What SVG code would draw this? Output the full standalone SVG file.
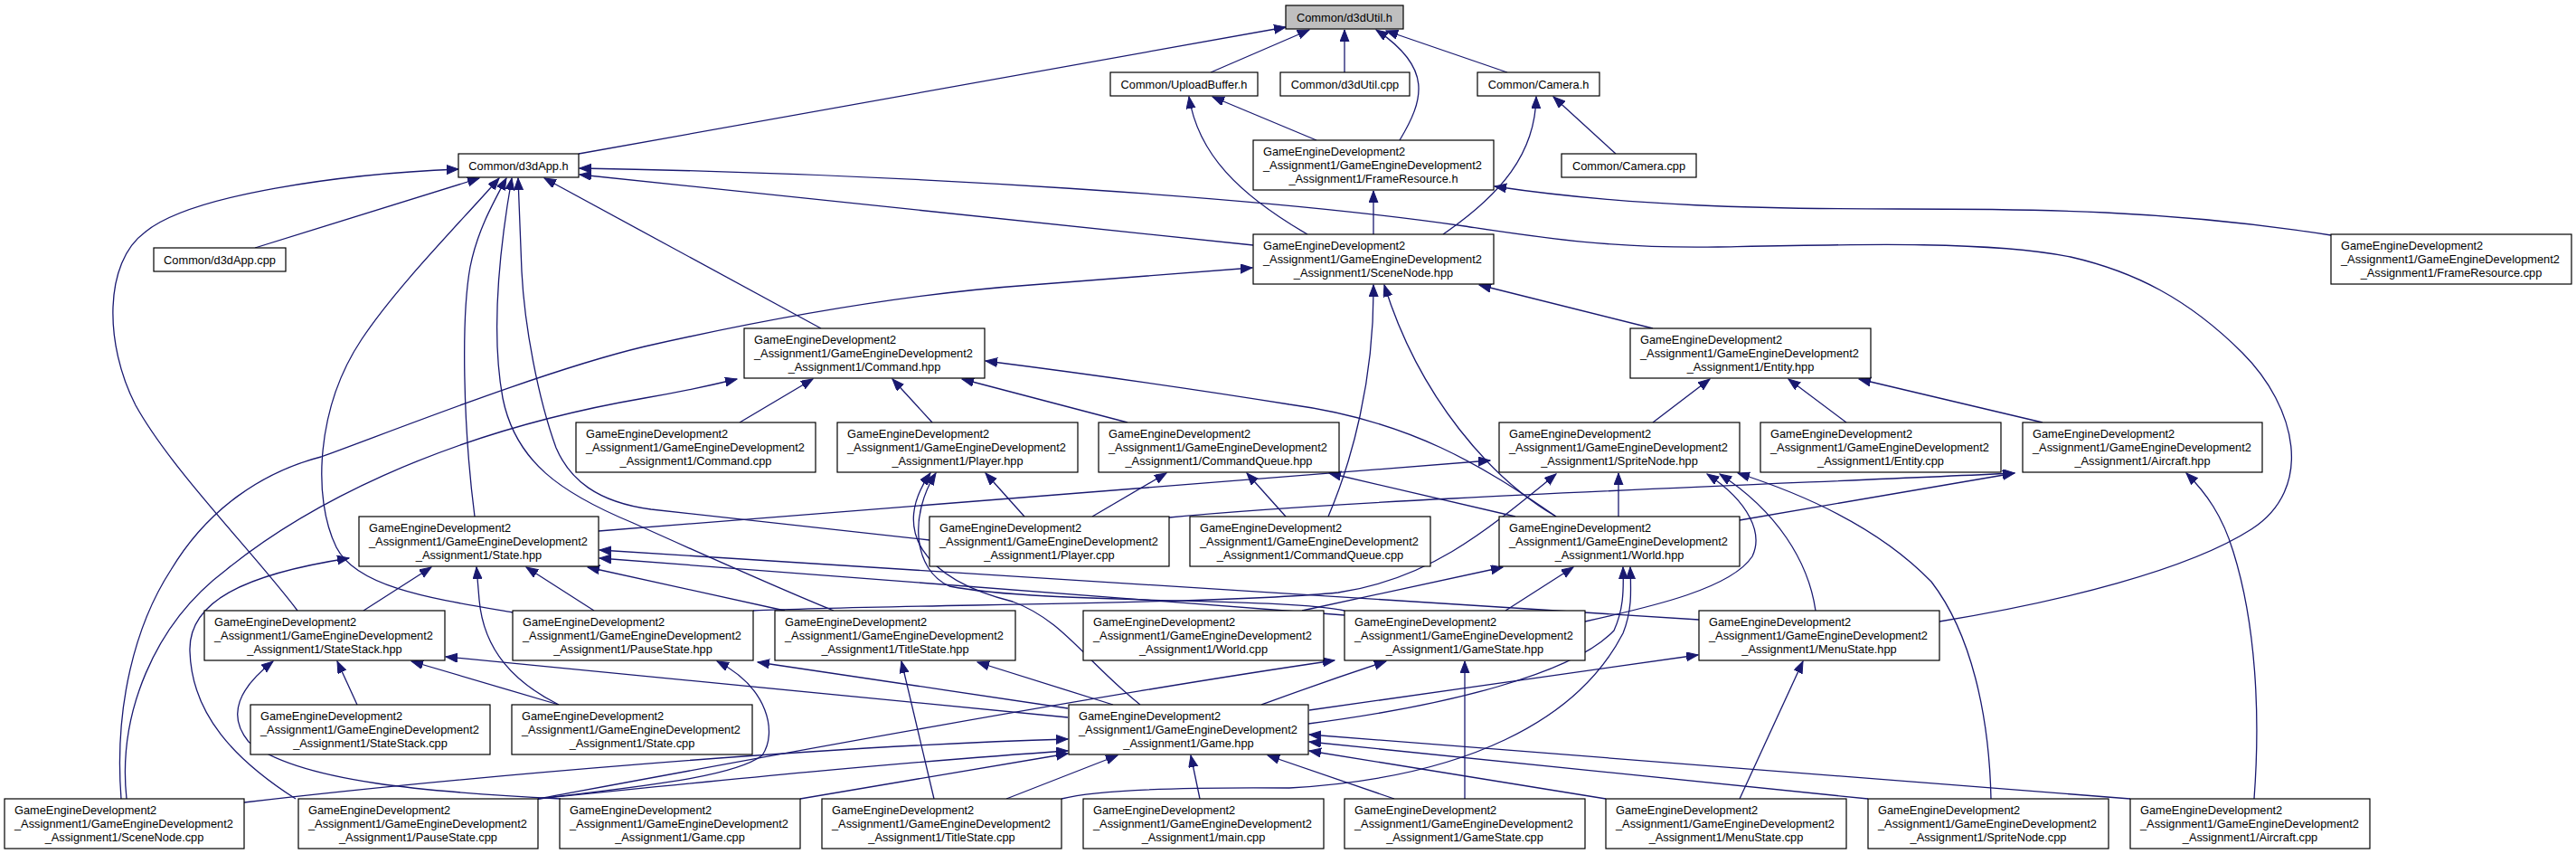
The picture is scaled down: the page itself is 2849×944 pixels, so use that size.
<svg xmlns="http://www.w3.org/2000/svg" width="2849" height="944" viewBox="0 0 2849 944">
<style>
.n rect{fill:#fff;stroke:#000;stroke-width:1.2}
.n.root rect{fill:#bfbfbf}
text{font-family:"Liberation Sans",Arial,Helvetica,sans-serif;font-size:12.8px;fill:#000}
.c{text-anchor:middle}
#edges path{fill:none;stroke:#191970;stroke-width:1.3;marker-end:url(#a)}
</style>
<defs>
<marker id="a" markerUnits="userSpaceOnUse" markerWidth="14" markerHeight="12" refX="13" refY="5" orient="auto">
<path d="M0,0 L13,5 L0,10 z" fill="#191970" stroke="#191970" stroke-width="1"/>
</marker>
</defs>
<rect width="2849" height="944" fill="#fff"/>
<g id="edges">
<path d="M640,170 L1422,30"/>
<path d="M1339,80 L1448,33"/>
<path d="M1487,80 L1487,33"/>
<path d="M1548,155 C1575,110 1585,75 1522,33"/>
<path d="M1667,80 L1533,34"/>
<path d="M1787,170 L1718,107"/>
<path d="M1596,259 C1660,215 1698,170 1699,107"/>
<path d="M1456,155 L1341,107"/>
<path d="M1446,259 C1370,215 1325,170 1315,107"/>
<path d="M1519,259 L1519,211"/>
<path d="M2578,260 C2400,232 2250,231 2100,231 C1950,231 1800,228 1653,206"/>
<path d="M282,274 L530,197"/>
<path d="M1386,271 L641,193"/>
<path d="M908,363 L602,197"/>
<path d="M2145,687 C2280,665 2420,630 2490,585 C2560,540 2540,450 2480,390 C2420,330 2360,300 2290,284 C2200,266 2050,270 1900,273 C1780,275 1700,262 1620,250 C1400,218 1000,192 641,186"/>
<path d="M329,675 C280,610 190,520 150,448 C115,380 115,290 160,257 C210,215 380,192 507,187"/>
<path d="M567,677 C480,662 395,650 372,605 C345,550 350,450 400,375 C440,315 510,245 552,197"/>
<path d="M525,571 C512,470 510,350 520,295 C528,255 545,225 560,197"/>
<path d="M922,675 C860,650 760,605 700,578 C620,545 570,510 556,440 C545,380 548,300 566,197"/>
<path d="M1028,597 L720,563 C660,555 630,530 615,495 C595,440 580,360 577,300 L573,197"/>
<path d="M818,467 L899,419"/>
<path d="M1031,467 L987,419"/>
<path d="M1247,467 L1064,419"/>
<path d="M1721,571 C1640,515 1560,465 1426,447 C1320,430 1200,413 1090,399"/>
<path d="M140,883 C130,790 170,690 250,630 C330,565 480,480 713,440 C760,432 790,425 815,419"/>
<path d="M134,883 C126,780 150,690 189,630 C230,562 290,522 355,505 C430,478 600,410 713,383 C850,352 1000,325 1140,315 L1385,296"/>
<path d="M1469,571 C1495,510 1520,420 1519,315"/>
<path d="M1721,571 C1650,530 1570,440 1531,315"/>
<path d="M1828,363 L1636,315"/>
<path d="M1828,467 L1891,419"/>
<path d="M2042,467 L1978,419"/>
<path d="M2259,467 L2056,419"/>
<path d="M1133,571 L1090,523"/>
<path d="M1487,675 C1420,660 1150,668 1050,648 C1010,630 1005,570 1035,523"/>
<path d="M1261,779 C1200,730 1175,685 1120,665 C1020,640 985,585 1029,523"/>
<path d="M1208,571 L1290,523"/>
<path d="M1422,571 L1379,523"/>
<path d="M1676,571 L1470,523"/>
<path d="M662,587 L1648,509"/>
<path d="M1790,571 L1790,523"/>
<path d="M833,675 C1000,668 1350,668 1480,655 C1580,640 1640,590 1721,524"/>
<path d="M1753,687 C1830,670 1915,650 1938,615 C1950,590 1935,555 1888,524"/>
<path d="M2008,675 C2000,620 1965,565 1902,524"/>
<path d="M2202,883 C2200,790 2180,700 2136,643 C2080,585 2000,548 1922,523"/>
<path d="M1293,572 C1500,552 1900,538 2228,523"/>
<path d="M1924,575 L2228,523"/>
<path d="M2493,883 C2500,790 2495,690 2470,610 C2458,570 2440,545 2418,523"/>
<path d="M402,675 L477,627"/>
<path d="M618,779 C570,755 535,720 530,663 L527,627"/>
<path d="M657,675 L582,627"/>
<path d="M868,675 L650,627"/>
<path d="M1487,680 L663,617"/>
<path d="M1879,685 L663,608"/>
<path d="M327,883 C260,840 212,790 210,720 C208,665 270,635 386,617"/>
<path d="M395,779 L373,731"/>
<path d="M618,779 L455,731"/>
<path d="M620,883 C480,876 330,865 275,820 C250,790 265,760 302,731"/>
<path d="M1181,793 L493,726"/>
<path d="M1181,783 L838,732"/>
<path d="M595,883 C700,870 810,860 843,835 C860,810 850,760 793,731"/>
<path d="M1231,779 L1081,732"/>
<path d="M1033,883 L997,731"/>
<path d="M1395,779 C1420,770 1460,755 1533,731"/>
<path d="M595,883 C800,845 1200,770 1476,730"/>
<path d="M1620,883 L1620,731"/>
<path d="M1448,785 L1878,724"/>
<path d="M1924,883 L1994,731"/>
<path d="M1440,675 L1662,627"/>
<path d="M1665,675 L1740,627"/>
<path d="M1447,800 C1600,780 1740,745 1785,697 C1795,675 1796,655 1795,627"/>
<path d="M1174,883 C1213,873 1300,870 1426,871 C1620,860 1745,797 1795,700 C1805,675 1804,655 1803,627"/>
<path d="M270,887 C500,860 900,825 1181,817"/>
<path d="M595,883 C800,862 1000,842 1181,830"/>
<path d="M885,883 L1181,833"/>
<path d="M1113,883 L1236,835"/>
<path d="M1327,883 L1317,835"/>
<path d="M1542,883 L1402,835"/>
<path d="M1776,883 L1448,830"/>
<path d="M2066,883 L1448,820"/>
<path d="M2356,883 L1448,812"/>
</g>
<g id="n_d3dUtil_h" class="n root"><rect x="1422" y="6" width="130" height="26"/><text class="c" x="1487" y="23.5">Common/d3dUtil.h</text></g>
<g id="n_d3dApp_h" class="n"><rect x="507" y="170" width="133" height="26"/><text class="c" x="573.5" y="187.5">Common/d3dApp.h</text></g>
<g id="n_UploadBuffer_h" class="n"><rect x="1228" y="80" width="163" height="26"/><text class="c" x="1309.5" y="97.5">Common/UploadBuffer.h</text></g>
<g id="n_d3dUtil_cpp" class="n"><rect x="1416" y="80" width="143" height="26"/><text class="c" x="1487.5" y="97.5">Common/d3dUtil.cpp</text></g>
<g id="n_Camera_h" class="n"><rect x="1634" y="80" width="135" height="26"/><text class="c" x="1701.5" y="97.5">Common/Camera.h</text></g>
<g id="n_Camera_cpp" class="n"><rect x="1727" y="170" width="149" height="26"/><text class="c" x="1801.5" y="187.5">Common/Camera.cpp</text></g>
<g id="n_d3dApp_cpp" class="n"><rect x="170" y="274" width="146" height="26"/><text class="c" x="243" y="291.5">Common/d3dApp.cpp</text></g>
<g id="n_FrameResource_h" class="n"><rect x="1386" y="155" width="266" height="55"/><text x="1397" y="172">GameEngineDevelopment2</text><text x="1397" y="187">_Assignment1/GameEngineDevelopment2</text><text class="c" x="1519" y="202">_Assignment1/FrameResource.h</text></g>
<g id="n_SceneNode_hpp" class="n"><rect x="1386" y="259" width="266" height="55"/><text x="1397" y="276">GameEngineDevelopment2</text><text x="1397" y="291">_Assignment1/GameEngineDevelopment2</text><text class="c" x="1519" y="306">_Assignment1/SceneNode.hpp</text></g>
<g id="n_FrameResource_cpp" class="n"><rect x="2578" y="259" width="266" height="55"/><text x="2589" y="276">GameEngineDevelopment2</text><text x="2589" y="291">_Assignment1/GameEngineDevelopment2</text><text class="c" x="2711" y="306">_Assignment1/FrameResource.cpp</text></g>
<g id="n_Command_hpp" class="n"><rect x="823" y="363" width="266" height="55"/><text x="834" y="380">GameEngineDevelopment2</text><text x="834" y="395">_Assignment1/GameEngineDevelopment2</text><text class="c" x="956" y="410">_Assignment1/Command.hpp</text></g>
<g id="n_Entity_hpp" class="n"><rect x="1803" y="363" width="266" height="55"/><text x="1814" y="380">GameEngineDevelopment2</text><text x="1814" y="395">_Assignment1/GameEngineDevelopment2</text><text class="c" x="1936" y="410">_Assignment1/Entity.hpp</text></g>
<g id="n_Command_cpp" class="n"><rect x="637" y="467" width="265" height="55"/><text x="648" y="484">GameEngineDevelopment2</text><text x="648" y="499">_Assignment1/GameEngineDevelopment2</text><text class="c" x="769.5" y="514">_Assignment1/Command.cpp</text></g>
<g id="n_Player_hpp" class="n"><rect x="926" y="467" width="266" height="55"/><text x="937" y="484">GameEngineDevelopment2</text><text x="937" y="499">_Assignment1/GameEngineDevelopment2</text><text class="c" x="1059" y="514">_Assignment1/Player.hpp</text></g>
<g id="n_CommandQueue_hpp" class="n"><rect x="1215" y="467" width="266" height="55"/><text x="1226" y="484">GameEngineDevelopment2</text><text x="1226" y="499">_Assignment1/GameEngineDevelopment2</text><text class="c" x="1348" y="514">_Assignment1/CommandQueue.hpp</text></g>
<g id="n_SpriteNode_hpp" class="n"><rect x="1658" y="467" width="266" height="55"/><text x="1669" y="484">GameEngineDevelopment2</text><text x="1669" y="499">_Assignment1/GameEngineDevelopment2</text><text class="c" x="1791" y="514">_Assignment1/SpriteNode.hpp</text></g>
<g id="n_Entity_cpp" class="n"><rect x="1947" y="467" width="266" height="55"/><text x="1958" y="484">GameEngineDevelopment2</text><text x="1958" y="499">_Assignment1/GameEngineDevelopment2</text><text class="c" x="2080" y="514">_Assignment1/Entity.cpp</text></g>
<g id="n_Aircraft_hpp" class="n"><rect x="2237" y="467" width="265" height="55"/><text x="2248" y="484">GameEngineDevelopment2</text><text x="2248" y="499">_Assignment1/GameEngineDevelopment2</text><text class="c" x="2369.5" y="514">_Assignment1/Aircraft.hpp</text></g>
<g id="n_State_hpp" class="n"><rect x="397" y="571" width="265" height="55"/><text x="408" y="588">GameEngineDevelopment2</text><text x="408" y="603">_Assignment1/GameEngineDevelopment2</text><text class="c" x="529.5" y="618">_Assignment1/State.hpp</text></g>
<g id="n_Player_cpp" class="n"><rect x="1028" y="571" width="265" height="55"/><text x="1039" y="588">GameEngineDevelopment2</text><text x="1039" y="603">_Assignment1/GameEngineDevelopment2</text><text class="c" x="1160.5" y="618">_Assignment1/Player.cpp</text></g>
<g id="n_CommandQueue_cpp" class="n"><rect x="1316" y="571" width="266" height="55"/><text x="1327" y="588">GameEngineDevelopment2</text><text x="1327" y="603">_Assignment1/GameEngineDevelopment2</text><text class="c" x="1449" y="618">_Assignment1/CommandQueue.cpp</text></g>
<g id="n_World_hpp" class="n"><rect x="1658" y="571" width="266" height="55"/><text x="1669" y="588">GameEngineDevelopment2</text><text x="1669" y="603">_Assignment1/GameEngineDevelopment2</text><text class="c" x="1791" y="618">_Assignment1/World.hpp</text></g>
<g id="n_StateStack_hpp" class="n"><rect x="226" y="675" width="266" height="55"/><text x="237" y="692">GameEngineDevelopment2</text><text x="237" y="707">_Assignment1/GameEngineDevelopment2</text><text class="c" x="359" y="722">_Assignment1/StateStack.hpp</text></g>
<g id="n_PauseState_hpp" class="n"><rect x="567" y="675" width="266" height="55"/><text x="578" y="692">GameEngineDevelopment2</text><text x="578" y="707">_Assignment1/GameEngineDevelopment2</text><text class="c" x="700" y="722">_Assignment1/PauseState.hpp</text></g>
<g id="n_TitleState_hpp" class="n"><rect x="857" y="675" width="266" height="55"/><text x="868" y="692">GameEngineDevelopment2</text><text x="868" y="707">_Assignment1/GameEngineDevelopment2</text><text class="c" x="990" y="722">_Assignment1/TitleState.hpp</text></g>
<g id="n_World_cpp" class="n"><rect x="1198" y="675" width="266" height="55"/><text x="1209" y="692">GameEngineDevelopment2</text><text x="1209" y="707">_Assignment1/GameEngineDevelopment2</text><text class="c" x="1331" y="722">_Assignment1/World.cpp</text></g>
<g id="n_GameState_hpp" class="n"><rect x="1487" y="675" width="266" height="55"/><text x="1498" y="692">GameEngineDevelopment2</text><text x="1498" y="707">_Assignment1/GameEngineDevelopment2</text><text class="c" x="1620" y="722">_Assignment1/GameState.hpp</text></g>
<g id="n_MenuState_hpp" class="n"><rect x="1879" y="675" width="266" height="55"/><text x="1890" y="692">GameEngineDevelopment2</text><text x="1890" y="707">_Assignment1/GameEngineDevelopment2</text><text class="c" x="2012" y="722">_Assignment1/MenuState.hpp</text></g>
<g id="n_StateStack_cpp" class="n"><rect x="277" y="779" width="265" height="55"/><text x="288" y="796">GameEngineDevelopment2</text><text x="288" y="811">_Assignment1/GameEngineDevelopment2</text><text class="c" x="409.5" y="826">_Assignment1/StateStack.cpp</text></g>
<g id="n_State_cpp" class="n"><rect x="566" y="779" width="266" height="55"/><text x="577" y="796">GameEngineDevelopment2</text><text x="577" y="811">_Assignment1/GameEngineDevelopment2</text><text class="c" x="699" y="826">_Assignment1/State.cpp</text></g>
<g id="n_Game_hpp" class="n"><rect x="1182" y="779" width="265" height="55"/><text x="1193" y="796">GameEngineDevelopment2</text><text x="1193" y="811">_Assignment1/GameEngineDevelopment2</text><text class="c" x="1314.5" y="826">_Assignment1/Game.hpp</text></g>
<g id="n_SceneNode_cpp" class="n"><rect x="5" y="883" width="265" height="55"/><text x="16" y="900">GameEngineDevelopment2</text><text x="16" y="915">_Assignment1/GameEngineDevelopment2</text><text class="c" x="137.5" y="930">_Assignment1/SceneNode.cpp</text></g>
<g id="n_PauseState_cpp" class="n"><rect x="330" y="883" width="265" height="55"/><text x="341" y="900">GameEngineDevelopment2</text><text x="341" y="915">_Assignment1/GameEngineDevelopment2</text><text class="c" x="462.5" y="930">_Assignment1/PauseState.cpp</text></g>
<g id="n_Game_cpp" class="n"><rect x="619" y="883" width="266" height="55"/><text x="630" y="900">GameEngineDevelopment2</text><text x="630" y="915">_Assignment1/GameEngineDevelopment2</text><text class="c" x="752" y="930">_Assignment1/Game.cpp</text></g>
<g id="n_TitleState_cpp" class="n"><rect x="909" y="883" width="265" height="55"/><text x="920" y="900">GameEngineDevelopment2</text><text x="920" y="915">_Assignment1/GameEngineDevelopment2</text><text class="c" x="1041.5" y="930">_Assignment1/TitleState.cpp</text></g>
<g id="n_main_cpp" class="n"><rect x="1198" y="883" width="266" height="55"/><text x="1209" y="900">GameEngineDevelopment2</text><text x="1209" y="915">_Assignment1/GameEngineDevelopment2</text><text class="c" x="1331" y="930">_Assignment1/main.cpp</text></g>
<g id="n_GameState_cpp" class="n"><rect x="1487" y="883" width="266" height="55"/><text x="1498" y="900">GameEngineDevelopment2</text><text x="1498" y="915">_Assignment1/GameEngineDevelopment2</text><text class="c" x="1620" y="930">_Assignment1/GameState.cpp</text></g>
<g id="n_MenuState_cpp" class="n"><rect x="1776" y="883" width="266" height="55"/><text x="1787" y="900">GameEngineDevelopment2</text><text x="1787" y="915">_Assignment1/GameEngineDevelopment2</text><text class="c" x="1909" y="930">_Assignment1/MenuState.cpp</text></g>
<g id="n_SpriteNode_cpp" class="n"><rect x="2066" y="883" width="266" height="55"/><text x="2077" y="900">GameEngineDevelopment2</text><text x="2077" y="915">_Assignment1/GameEngineDevelopment2</text><text class="c" x="2199" y="930">_Assignment1/SpriteNode.cpp</text></g>
<g id="n_Aircraft_cpp" class="n"><rect x="2356" y="883" width="265" height="55"/><text x="2367" y="900">GameEngineDevelopment2</text><text x="2367" y="915">_Assignment1/GameEngineDevelopment2</text><text class="c" x="2488.5" y="930">_Assignment1/Aircraft.cpp</text></g>
</svg>
